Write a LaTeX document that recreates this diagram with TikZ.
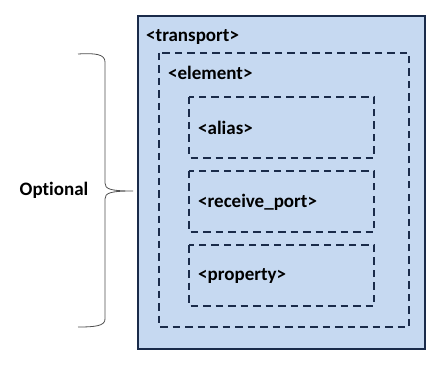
\documentclass[tikz,border=0pt]{standalone}
\usepackage{fontspec}
\setmainfont{Carlito}[Ligatures={NoCommon}]
\definecolor{boxfill}{HTML}{C6D9F1}
\definecolor{boxline}{HTML}{1A2B4A}
\definecolor{bracegray}{HTML}{505050}
\begin{document}
\begin{tikzpicture}[x=1pt,y=-1pt,
  lbl/.style={font=\fontsize{19}{21}\selectfont\bfseries, anchor=west, inner sep=0pt},
  dbox/.style={draw=boxline, line width=1.8pt, dash pattern=on 7.5pt off 5pt},
]
\useasboundingbox (0,0) rectangle (444,366);
% outer box
\draw[fill=boxfill, draw=boxline, line width=1.8pt] (138,16) rectangle (425,349);
\node[lbl] (transport) at (146,37) {<transport>};
% element
\draw[dbox] (159,53) rectangle (409,327);
\node[lbl] (element) at (168,73) {<element>};
% children
\draw[dbox] (189,97) rectangle (374,158);
\node[lbl] (alias) at (198,128) {<alias>};
\draw[dbox] (189,171) rectangle (374,232);
\node[lbl] (recv) at (198,202) {<receive\_port>};
\draw[dbox] (189,245) rectangle (374,306);
\node[lbl] (prop) at (198,276) {<property>};
% brace
\coordinate (tip) at (133,191);
\draw[bracegray, line width=0.8pt]
  (78,54) .. controls (95,53) and (105,54) .. (105,62)
  -- (105,183) .. controls (105,189) and (110,191) .. (tip)
  .. controls (110,191) and (105,193) .. (105,199)
  -- (105,319) .. controls (105,326) and (95,327) .. (78,327);
\node[lbl, anchor=center] (opt) at (54,190) {Optional};
\end{tikzpicture}
\end{document}
